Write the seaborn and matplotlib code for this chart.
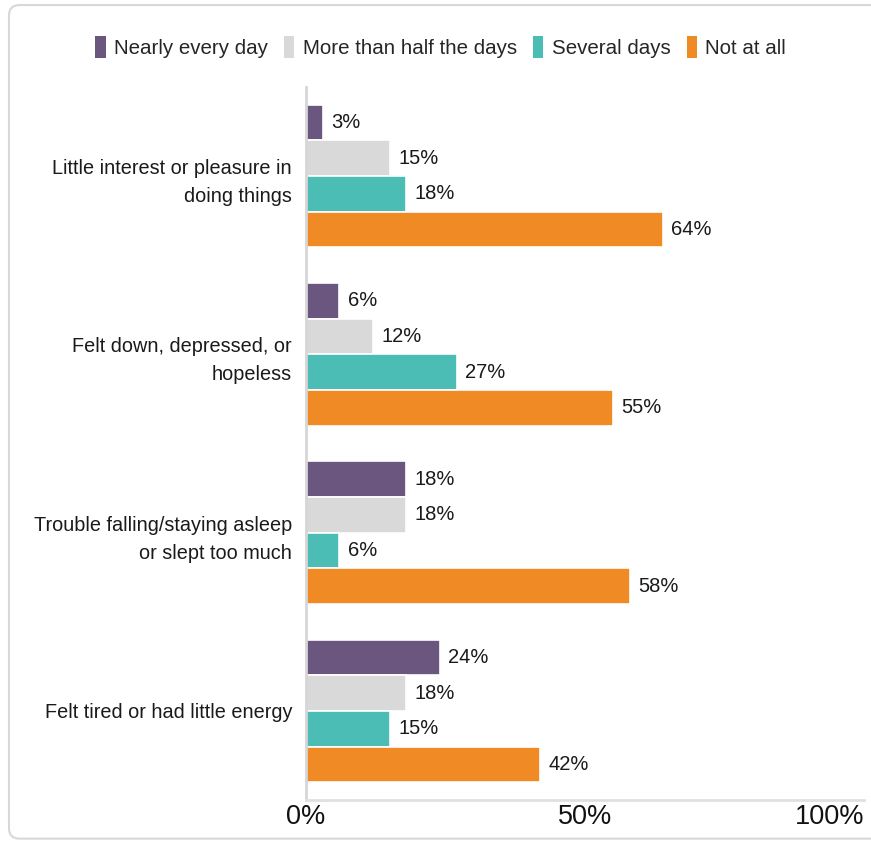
import matplotlib
matplotlib.use("Agg")
import matplotlib.pyplot as plt
from matplotlib.patches import Patch, FancyBboxPatch
import seaborn as sns
import pandas as pd

categories = [
    "Little interest or pleasure in\ndoing things",
    "Felt down, depressed, or\nhopeless",
    "Trouble falling/staying asleep\nor slept too much",
    "Felt tired or had little energy",
]
series = ["Nearly every day", "More than half the days", "Several days", "Not at all"]
nearly_every_day = [3, 6, 18, 24]
more_than_half = [15, 12, 18, 18]
several_days = [18, 27, 6, 15]
not_at_all = [64, 55, 58, 42]
x_ticks = [0, 50, 100]
x_tick_labels = ["0%", "50%", "100%"]

colors = ["#6B5680", "#D9D9D9", "#4BBDB5", "#F08A24"]

values = [nearly_every_day, more_than_half, several_days, not_at_all]
rows = []
for s, vals in zip(series, values):
    for c, v in zip(categories, vals):
        rows.append({"category": c, "series": s, "value": v})
df = pd.DataFrame(rows)

sns.set_theme(style="white")
plt.rcParams["font.family"] = ["Liberation Sans", "DejaVu Sans"]

fig = plt.figure(figsize=(8.71, 8.42), dpi=100)
ax = fig.add_axes([306 / 871, 1 - 800 / 842, 558 / 871, 713 / 842])

sns.barplot(data=df, y="category", x="value", hue="series", order=categories,
            hue_order=series, palette=colors, saturation=1, orient="h", ax=ax,
            edgecolor="white", linewidth=1.2, width=0.8, legend=False)

for cont in ax.containers:
    ax.bar_label(cont, labels=[f"{int(v)}%" for v in cont.datavalues],
                 padding=6, fontsize=14.5, color="#1A1A1A")

ax.set_xlim(0, 100)
ax.set_ylim(len(categories) - 0.5, -0.5)
ax.set_xticks(x_ticks)
ax.set_xticklabels(x_tick_labels, fontsize=19.5, color="#111111")
ax.get_xticklabels()[-1].set_horizontalalignment("right")
ax.tick_params(axis="x", length=0, pad=3)
ax.set_xlabel("")
ax.set_ylabel("")
ax.set_yticks(range(len(categories)))
ax.set_yticklabels(categories, fontsize=14.3, color="#1A1A1A", linespacing=1.6)
ax.tick_params(axis="y", which="major", length=0, pad=10)
ax.set_yticks([-0.5, 0.5, 1.5, 2.5], minor=True)
ax.tick_params(axis="y", which="minor", length=11, width=1.5, color="#D0D0D0")
for lbl in ax.get_yticklabels():
    lbl.set_multialignment("right")

for side in ["top", "right"]:
    ax.spines[side].set_visible(False)
ax.spines["left"].set_color("#D6D6D6")
ax.spines["left"].set_linewidth(2)
ax.spines["bottom"].set_color("#E0E0E0")
ax.spines["bottom"].set_linewidth(2)
ax.grid(False)

handles = [Patch(facecolor=c, edgecolor="none") for c in colors]
fig.legend(handles, series, loc="center", bbox_to_anchor=(0.506, 1 - 47 / 842),
           ncol=4, frameon=False, fontsize=14.8, handlelength=0.5, handleheight=1.3,
           handletextpad=0.4, columnspacing=0.8)

border = FancyBboxPatch((9 / 871, 0.004), 1.2, 0.99, boxstyle="round,pad=0,rounding_size=0.012",
                        transform=fig.transFigure, facecolor="none",
                        edgecolor="#D8D8D8", linewidth=1.5, zorder=-1)
fig.patches.append(border)

fig.savefig("out.png", dpi=100)
